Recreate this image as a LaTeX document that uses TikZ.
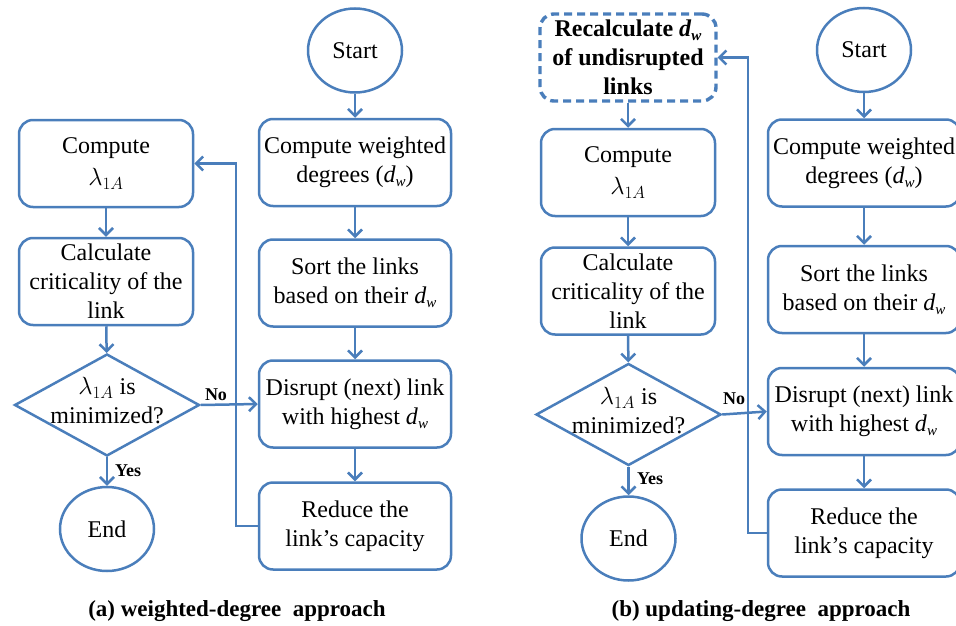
\documentclass[tikz,border=0pt]{standalone}
\usepackage{fontspec}
\setmainfont{Liberation Serif}
\usetikzlibrary{arrows.meta,shapes.geometric}
\definecolor{flowblue}{RGB}{74,126,187}
% italic d with subscript w
\newcommand\dw{\textit{d}\raisebox{-0.35ex}{\fontsize{15}{15}\selectfont\itshape w}}
\newcommand\lam{$\lambda_{1A}$}
\begin{document}
\begin{tikzpicture}[x=1pt,y=-1pt,
  every node/.style={font=\fontsize{24}{29}\selectfont},
  stepbox/.style={draw=flowblue, line width=2.5pt, rounded corners=14pt,
    align=center, inner sep=0pt, minimum height=87pt},
  leftbox/.style={stepbox, minimum width=174pt},
  rightbox/.style={stepbox, minimum width=192pt},
  dashbox/.style={stepbox, minimum width=176pt, line width=3.4pt,
    dash pattern=on 8pt off 5pt, font=\fontsize{24}{29}\selectfont\bfseries},
  terminal/.style={draw=flowblue, line width=2.5pt, ellipse, inner sep=0pt,
    minimum width=94pt, minimum height=84pt},
  decision/.style={draw=flowblue, line width=2.5pt, diamond, inner sep=0pt,
    minimum width=185pt, minimum height=102pt},
  flow/.style={draw=flowblue, line width=2.5pt,
    -{Straight Barb[length=7pt,width=14pt]}},
  tag/.style={font=\fontsize{18}{18}\selectfont\bfseries, inner sep=0pt},
  caption/.style={font=\fontsize{23}{23}\selectfont\bfseries, inner sep=0pt}]
\useasboundingbox (0,0) rectangle (956,626);
\clip (0,0) rectangle (956,626);

% ---------- (a) weighted-degree approach ----------
\node[terminal] (startA) at (355,50.5) {Start};
\node[rightbox] (cwA) at (355,162.5) {Compute weighted\\degrees (\dw)};
\node[rightbox] (sortA) at (355,283) {Sort the links\\based on their \dw};
\node[rightbox] (disA) at (355,404) {Disrupt (next) link\\with highest \dw};
\node[rightbox] (redA) at (355,526) {Reduce the\\link’s capacity};

\node[leftbox] (lamA) at (106,163.5) {Compute\\[3pt]\lam};
\node[leftbox] (critA) at (106,281.5) {Calculate\\criticality of the\\link};
\node[decision] (decA) at (107,405) {};
\node[align=center, inner sep=0pt] (decAtxt) at (107,401) {\lam{} is\\minimized?};
\node[terminal] (endA) at (107,529) {End};

\draw[flow] (startA) -- (cwA);
\draw[flow] (cwA) -- (sortA);
\draw[flow] (sortA) -- (disA);
\draw[flow] (disA) -- (redA);
\draw[flow] (lamA) -- (critA);
\draw[flow] (critA) -- (decA);
\draw[flow] (decA) -- (endA);
\draw[flow] (decA.east) -- (disA.west);
\coordinate (loopA) at (236,0);
\draw[flow] (redA.west) -- (redA.west -| loopA) |- (lamA.east);

\node[tag] (noA) at (216,395) {No};
\node[tag, anchor=west] (yesA) at (115,471) {Yes};
\node[caption] (capA) at (237,611) {(a) weighted-degree\ \ approach};

% ---------- (b) updating-degree approach ----------
% right column runs past the right edge; its boxes are cut by the clip
\node[terminal] (startB) at (864,50) {Start};
\node[rightbox] (cwB) at (864,163) {Compute weighted\\degrees (\dw)};
\node[rightbox] (sortB) at (864,289.5) {Sort the links\\based on their \dw};
\node[rightbox] (disB) at (864,411.5) {Disrupt (next) link\\with highest \dw};
\node[rightbox] (redB) at (864,533) {Reduce the\\link’s capacity};

\node[dashbox] (recB) at (628,57.5) {Recalculate \dw\\of undisrupted\\links};
\node[leftbox] (lamB) at (628,172.5) {Compute\\[3pt]\lam};
\node[leftbox] (critB) at (628,291) {Calculate\\criticality of the\\link};
\node[decision] (decB) at (628.5,414.5) {};
\node[align=center, inner sep=0pt] (decBtxt) at (628.5,410.5) {\lam{} is\\minimized?};
\node[terminal] (endB) at (628.5,538.5) {End};

\draw[flow] (startB) -- (cwB);
\draw[flow] (cwB) -- (sortB);
\draw[flow] (sortB) -- (disB);
\draw[flow] (disB) -- (redB);
\draw[flow] (recB) -- (lamB);
\draw[flow] (lamB) -- (critB);
\draw[flow] (critB) -- (decB);
\draw[flow] (decB) -- (endB);
\draw[flow] (decB.east) -- (disB.west);
\coordinate (loopB) at (748,0);
\draw[flow] (redB.west) -- (redB.west -| loopB) |- (recB.east);

\node[tag] (noB) at (734,399) {No};
\node[tag, anchor=west] (yesB) at (637,479) {Yes};
\node[caption] (capB) at (761,611) {(b) updating-degree\ \ approach};
\end{tikzpicture}
\end{document}
